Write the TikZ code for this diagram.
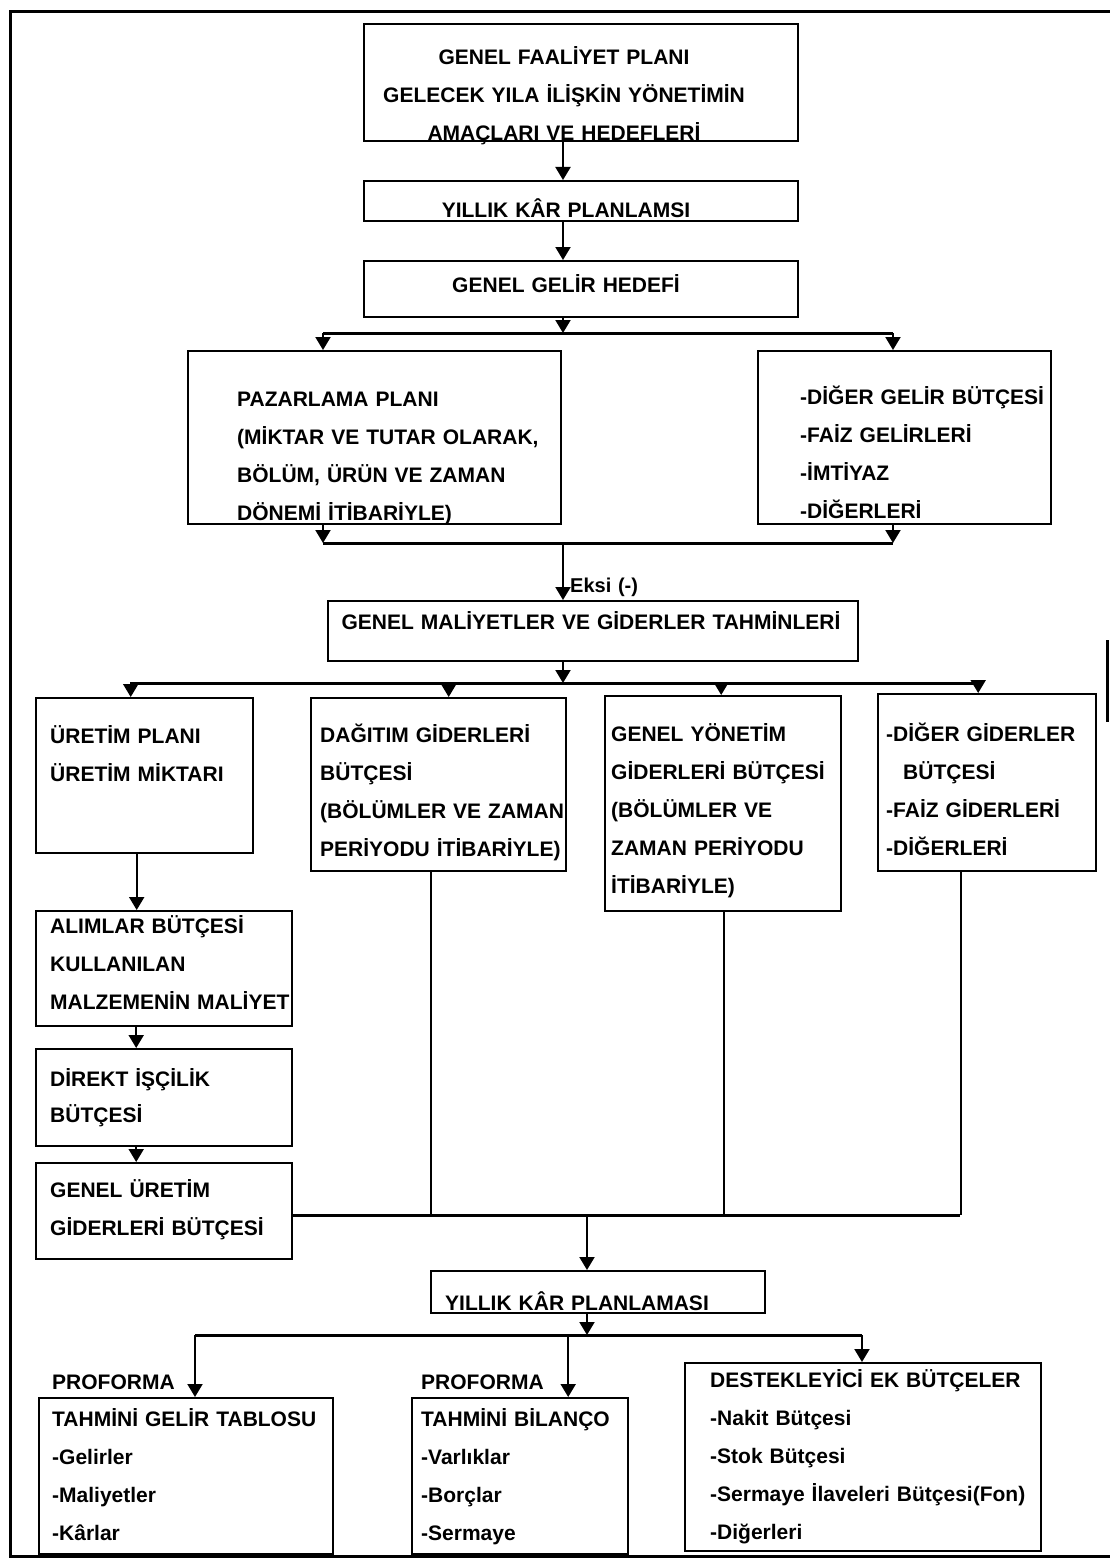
\documentclass[tikz,border=0pt]{standalone}
\usepackage{fontspec}
\setmainfont{Liberation Sans}
\usetikzlibrary{arrows.meta}

\tikzset{
    box/.style={draw, line width=2.4pt, inner sep=0pt, anchor=north west},
    txt/.style={anchor=base west, inner sep=0pt, text width=#1, align=left,
        font=\bfseries\fontsize{21}{38}\selectfont},
    ctxt/.style={txt=#1, anchor=base, align=center},
    conn/.style={line width=2pt},
    arr/.style={conn, -{Triangle[width=15pt,length=13pt]}},
    bus/.style={line width=3pt},
}

\begin{document}
\begin{tikzpicture}[x=1pt, y=-1pt]
    \useasboundingbox (0,0) rectangle (1110,1565);
    \draw[line width=3pt] (1110,12) -- (10,12) -- (10,1556) -- (1110,1556);
    \draw[line width=3pt] (1107,640) -- (1107,722);
    %
    % texts
    \node[ctxt=520] (plan1t)  at (564,65)  {GENEL FAALİYET PLANI\\GELECEK YILA İLİŞKİN YÖNETİMİN\\AMAÇLARI VE HEDEFLERİ};
    \node[ctxt=520] (kar1t)   at (566,218) {YILLIK KÂR PLANLAMSI};
    \node[ctxt=520] (gelir1t) at (566,292) {GENEL GELİR HEDEFİ};
    \node[txt=360]  (paz1t)   at (237,406) {PAZARLAMA PLANI\\(MİKTAR VE TUTAR OLARAK,\\BÖLÜM, ÜRÜN VE ZAMAN\\DÖNEMİ İTİBARİYLE)};
    \node[txt=280]  (dgel1t)  at (800,404) {-DİĞER GELİR BÜTÇESİ\\-FAİZ GELİRLERİ\\-İMTİYAZ\\-DİĞERLERİ};
    \node[txt=120, font=\bfseries\fontsize{20}{24}\selectfont] (eksi) at (570,592) {Eksi (-)};
    \node[ctxt=560] (gider1t) at (591,629) {GENEL MALİYETLER VE GİDERLER TAHMİNLERİ};
    \node[txt=220]  (uret1t)  at (50,743)  {ÜRETİM PLANI\\ÜRETİM MİKTARI};
    \node[txt=280]  (dag1t)   at (320,742) {DAĞITIM GİDERLERİ\\BÜTÇESİ\\(BÖLÜMLER VE ZAMAN\\PERİYODU İTİBARİYLE)};
    \node[txt=240]  (yon1t)   at (611,741) {GENEL YÖNETİM\\GİDERLERİ BÜTÇESİ\\(BÖLÜMLER VE\\ZAMAN PERİYODU\\İTİBARİYLE)};
    \node[txt=220]  (dgid1t)  at (886,741) {-DİĞER GİDERLER\\\hspace*{17pt}BÜTÇESİ\\-FAİZ GİDERLERİ\\-DİĞERLERİ};
    \node[txt=260]  (alim1t)  at (50,933)  {ALIMLAR BÜTÇESİ\\KULLANILAN\\MALZEMENİN MALİYET};
    \node[txt=260, font=\bfseries\fontsize{21}{36}\selectfont] (isc1t) at (50,1086) {DİREKT İŞÇİLİK\\BÜTÇESİ};
    \node[txt=260]  (ugid1t)  at (50,1197) {GENEL ÜRETİM\\GİDERLERİ BÜTÇESİ};
    \node[txt=320]  (kar2t)   at (445,1310) {YILLIK KÂR PLANLAMASI};
    \node[txt=200]  (prof1)   at (52,1389) {PROFORMA};
    \node[txt=200]  (prof2)   at (421,1389) {PROFORMA};
    \node[txt=290]  (gtab1t)  at (52,1426) {TAHMİNİ GELİR TABLOSU\\-Gelirler\\-Maliyetler\\-Kârlar};
    \node[txt=210]  (bil1t)   at (421,1426) {TAHMİNİ BİLANÇO\\-Varlıklar\\-Borçlar\\-Sermaye};
    \node[txt=350]  (dest1t)  at (710,1387) {DESTEKLEYİCİ EK BÜTÇELER\\-Nakit Bütçesi\\-Stok Bütçesi\\-Sermaye İlaveleri Bütçesi(Fon)\\-Diğerleri};
    %
    % boxes
    \node[box, minimum width=434, minimum height=117] (plan1)  at (363,23)   {};
    \node[box, minimum width=434, minimum height=40]  (kar1)   at (363,180)  {};
    \node[box, minimum width=434, minimum height=56]  (gelir1) at (363,260)  {};
    \node[box, minimum width=373, minimum height=173] (paz1)   at (187,350)  {};
    \node[box, minimum width=293, minimum height=173] (dgel1)  at (757,350)  {};
    \node[box, minimum width=530, minimum height=60]  (gider1) at (327,600)  {};
    \node[box, minimum width=217, minimum height=155] (uret1)  at (35,697)   {};
    \node[box, minimum width=255, minimum height=173] (dag1)   at (310,697)  {};
    \node[box, minimum width=236, minimum height=215] (yon1)   at (604,695)  {};
    \node[box, minimum width=218, minimum height=177] (dgid1)  at (877,693)  {};
    \node[box, minimum width=256, minimum height=115] (alim1)  at (35,910)   {};
    \node[box, minimum width=256, minimum height=97]  (isc1)   at (35,1048)  {};
    \node[box, minimum width=256, minimum height=96]  (ugid1)  at (35,1162)  {};
    \node[box, minimum width=334, minimum height=42]  (kar2)   at (430,1270) {};
    \node[box, minimum width=294, minimum height=156] (gtab1)  at (38,1397)  {};
    \node[box, minimum width=216, minimum height=156] (bil1)   at (411,1397) {};
    \node[box, minimum width=356, minimum height=188] (dest1)  at (684,1362) {};
    %
    % bus points
    \coordinate (ax)  at (563,0);
    \coordinate (b1l) at (323,333);
    \coordinate (b1r) at (893,333);
    \coordinate (b2l) at (323,543);
    \coordinate (b2r) at (893,543);
    \coordinate (b3l) at (130,683);
    \coordinate (b3r) at (977,683);
    \coordinate (b4)  at (587,1215);
    \coordinate (b4r) at (960,1215);
    \coordinate (b5l) at (195,1335);
    \coordinate (b5r) at (862,1335);
    %
    % connectors
    \draw[arr] (plan1.south -| ax) -- (kar1.north -| ax);
    \draw[arr] (kar1.south -| ax) -- (gelir1.north -| ax);
    \draw[arr] (gelir1.south -| ax) -- (ax |- b1l);
    \draw[bus] (b1l) -- (b1r);
    \draw[arr] (b1l) -- (b1l |- paz1.north);
    \draw[arr] (b1r) -- (b1r |- dgel1.north);
    \draw[arr] (b1l |- paz1.south) -- (b2l);
    \draw[arr] (b1r |- dgel1.south) -- (b2r);
    \draw[bus] (b2l) -- (b2r);
    \draw[arr] (ax |- b2l) -- (gider1.north -| ax);
    \draw[arr] (gider1.south -| ax) -- (ax |- b3l);
    \draw[bus] (b3l) -- (b3r);
    \foreach \n/\dx in {uret1/-14, dag1/10, yon1/-2, dgid1/-9}
        \draw[arr] ([xshift=\dx]\n.north |- b3l) -- ([xshift=\dx]\n.north);
    \draw[arr] ([xshift=-8]uret1.south) -- ([xshift=-8]uret1.south |- alim1.north);
    \draw[arr] ([xshift=-28]alim1.south) -- ([xshift=-28]isc1.north);
    \draw[arr] ([xshift=-28]isc1.south) -- ([xshift=-28]ugid1.north);
    \foreach \n/\dx in {dag1/-8, yon1/1, dgid1/-26}
        \draw[conn] ([xshift=\dx]\n.south) -- ([xshift=\dx]\n.south |- b4r);
    \draw[bus] (ugid1.east |- b4r) -- (b4r);
    \draw[arr] (b4) -- (kar2.north -| b4);
    \draw[arr] (kar2.south -| b4) -- (b4 |- b5l);
    \draw[bus] (b5l) -- (b5r);
    \draw[arr] (b5l) -- (b5l |- gtab1.north);
    \draw[arr] ([xshift=48]bil1.north |- b5l) -- ([xshift=48]bil1.north);
    \draw[arr] (b5r) -- (b5r |- dest1.north);
\end{tikzpicture}
\end{document}
